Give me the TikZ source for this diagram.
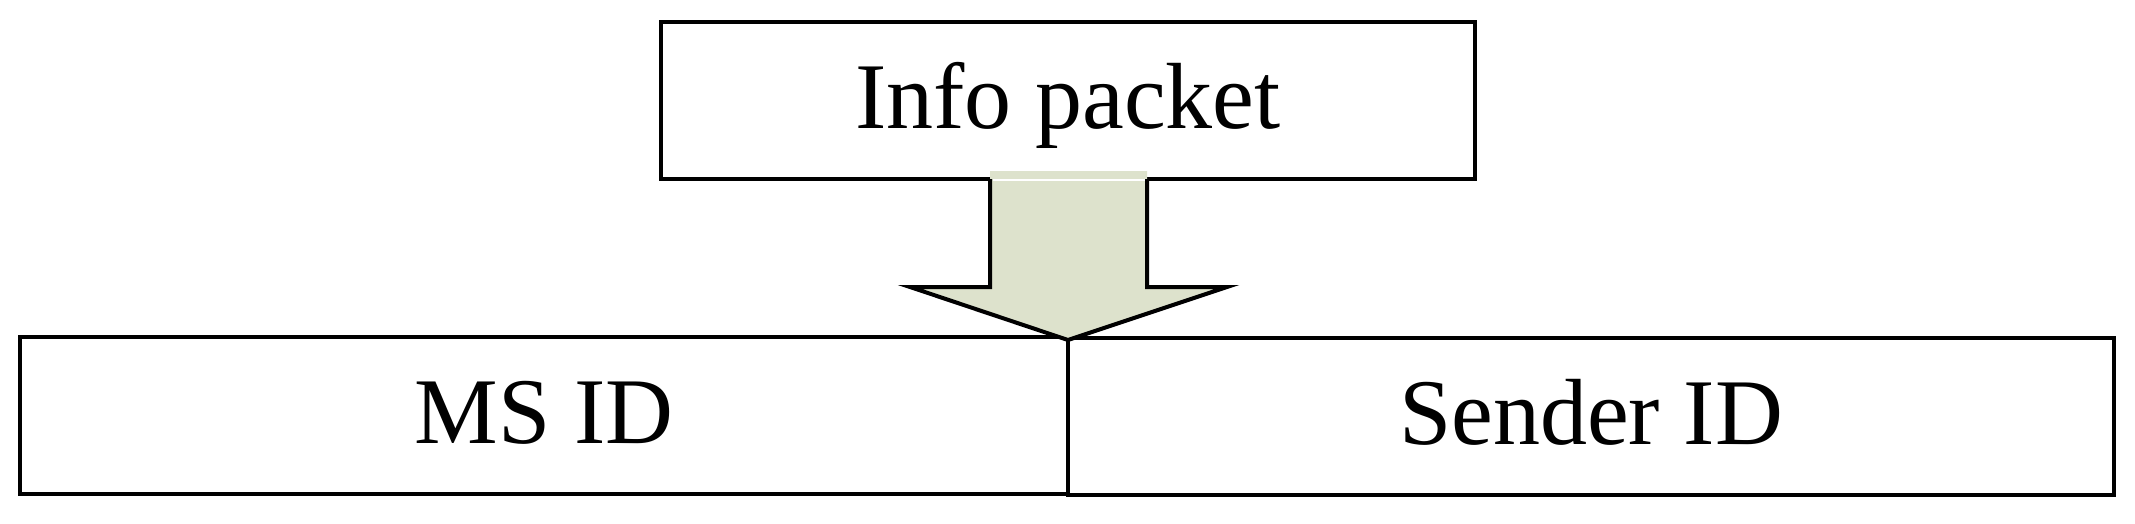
\documentclass[tikz,border=0pt]{standalone}
\usepackage{fontspec}
\setmainfont{Liberation Serif}
\definecolor{arrowfill}{RGB}{221,226,204}
\begin{document}
\begin{tikzpicture}[x=1pt,y=-1pt,
  box/.style={draw=black, line width=4pt, fill=white, inner sep=0pt, outer sep=0pt,
    minimum height=157pt, text height=62pt, text depth=6pt,
    font=\fontsize{94pt}{110pt}\selectfont},
  arrowedge/.style={draw=black, line width=4pt, line join=miter}]
\useasboundingbox (0,0) rectangle (2135,523);
\fill[white] (0,0) rectangle (2135,523);
\node[box, minimum width=814pt] (info) at (1068,100.5) {Info packet};
\node[box, minimum width=1048pt] (ms) at (544,415.5) {MS ID};
\node[box, minimum width=1046pt] (sender) at (1591,416) {Sender ID};
% block arrow
\coordinate (atl) at (990,171);
\coordinate (atr) at (1147,171);
\coordinate (asl) at (990,179);
\coordinate (asr) at (1147,179);
\coordinate (anl) at (990,287);
\coordinate (anr) at (1147,287);
\coordinate (awl) at (910,287);
\coordinate (awr) at (1227,287);
\coordinate (tip) at (1068,340);
\fill[arrowfill] (atl) -- (anl) -- (awl) -- (tip) -- (awr) -- (anr) -- (atr) -- cycle;
\draw[arrowedge] (asl) -- (anl) -- (awl) -- (tip) -- (awr) -- (anr) -- (asr);
\draw[white, line width=1.3pt] ([xshift=2.5pt,yshift=-1pt]asl) -- ([xshift=-2.5pt,yshift=-1pt]asr);
\end{tikzpicture}
\end{document}
